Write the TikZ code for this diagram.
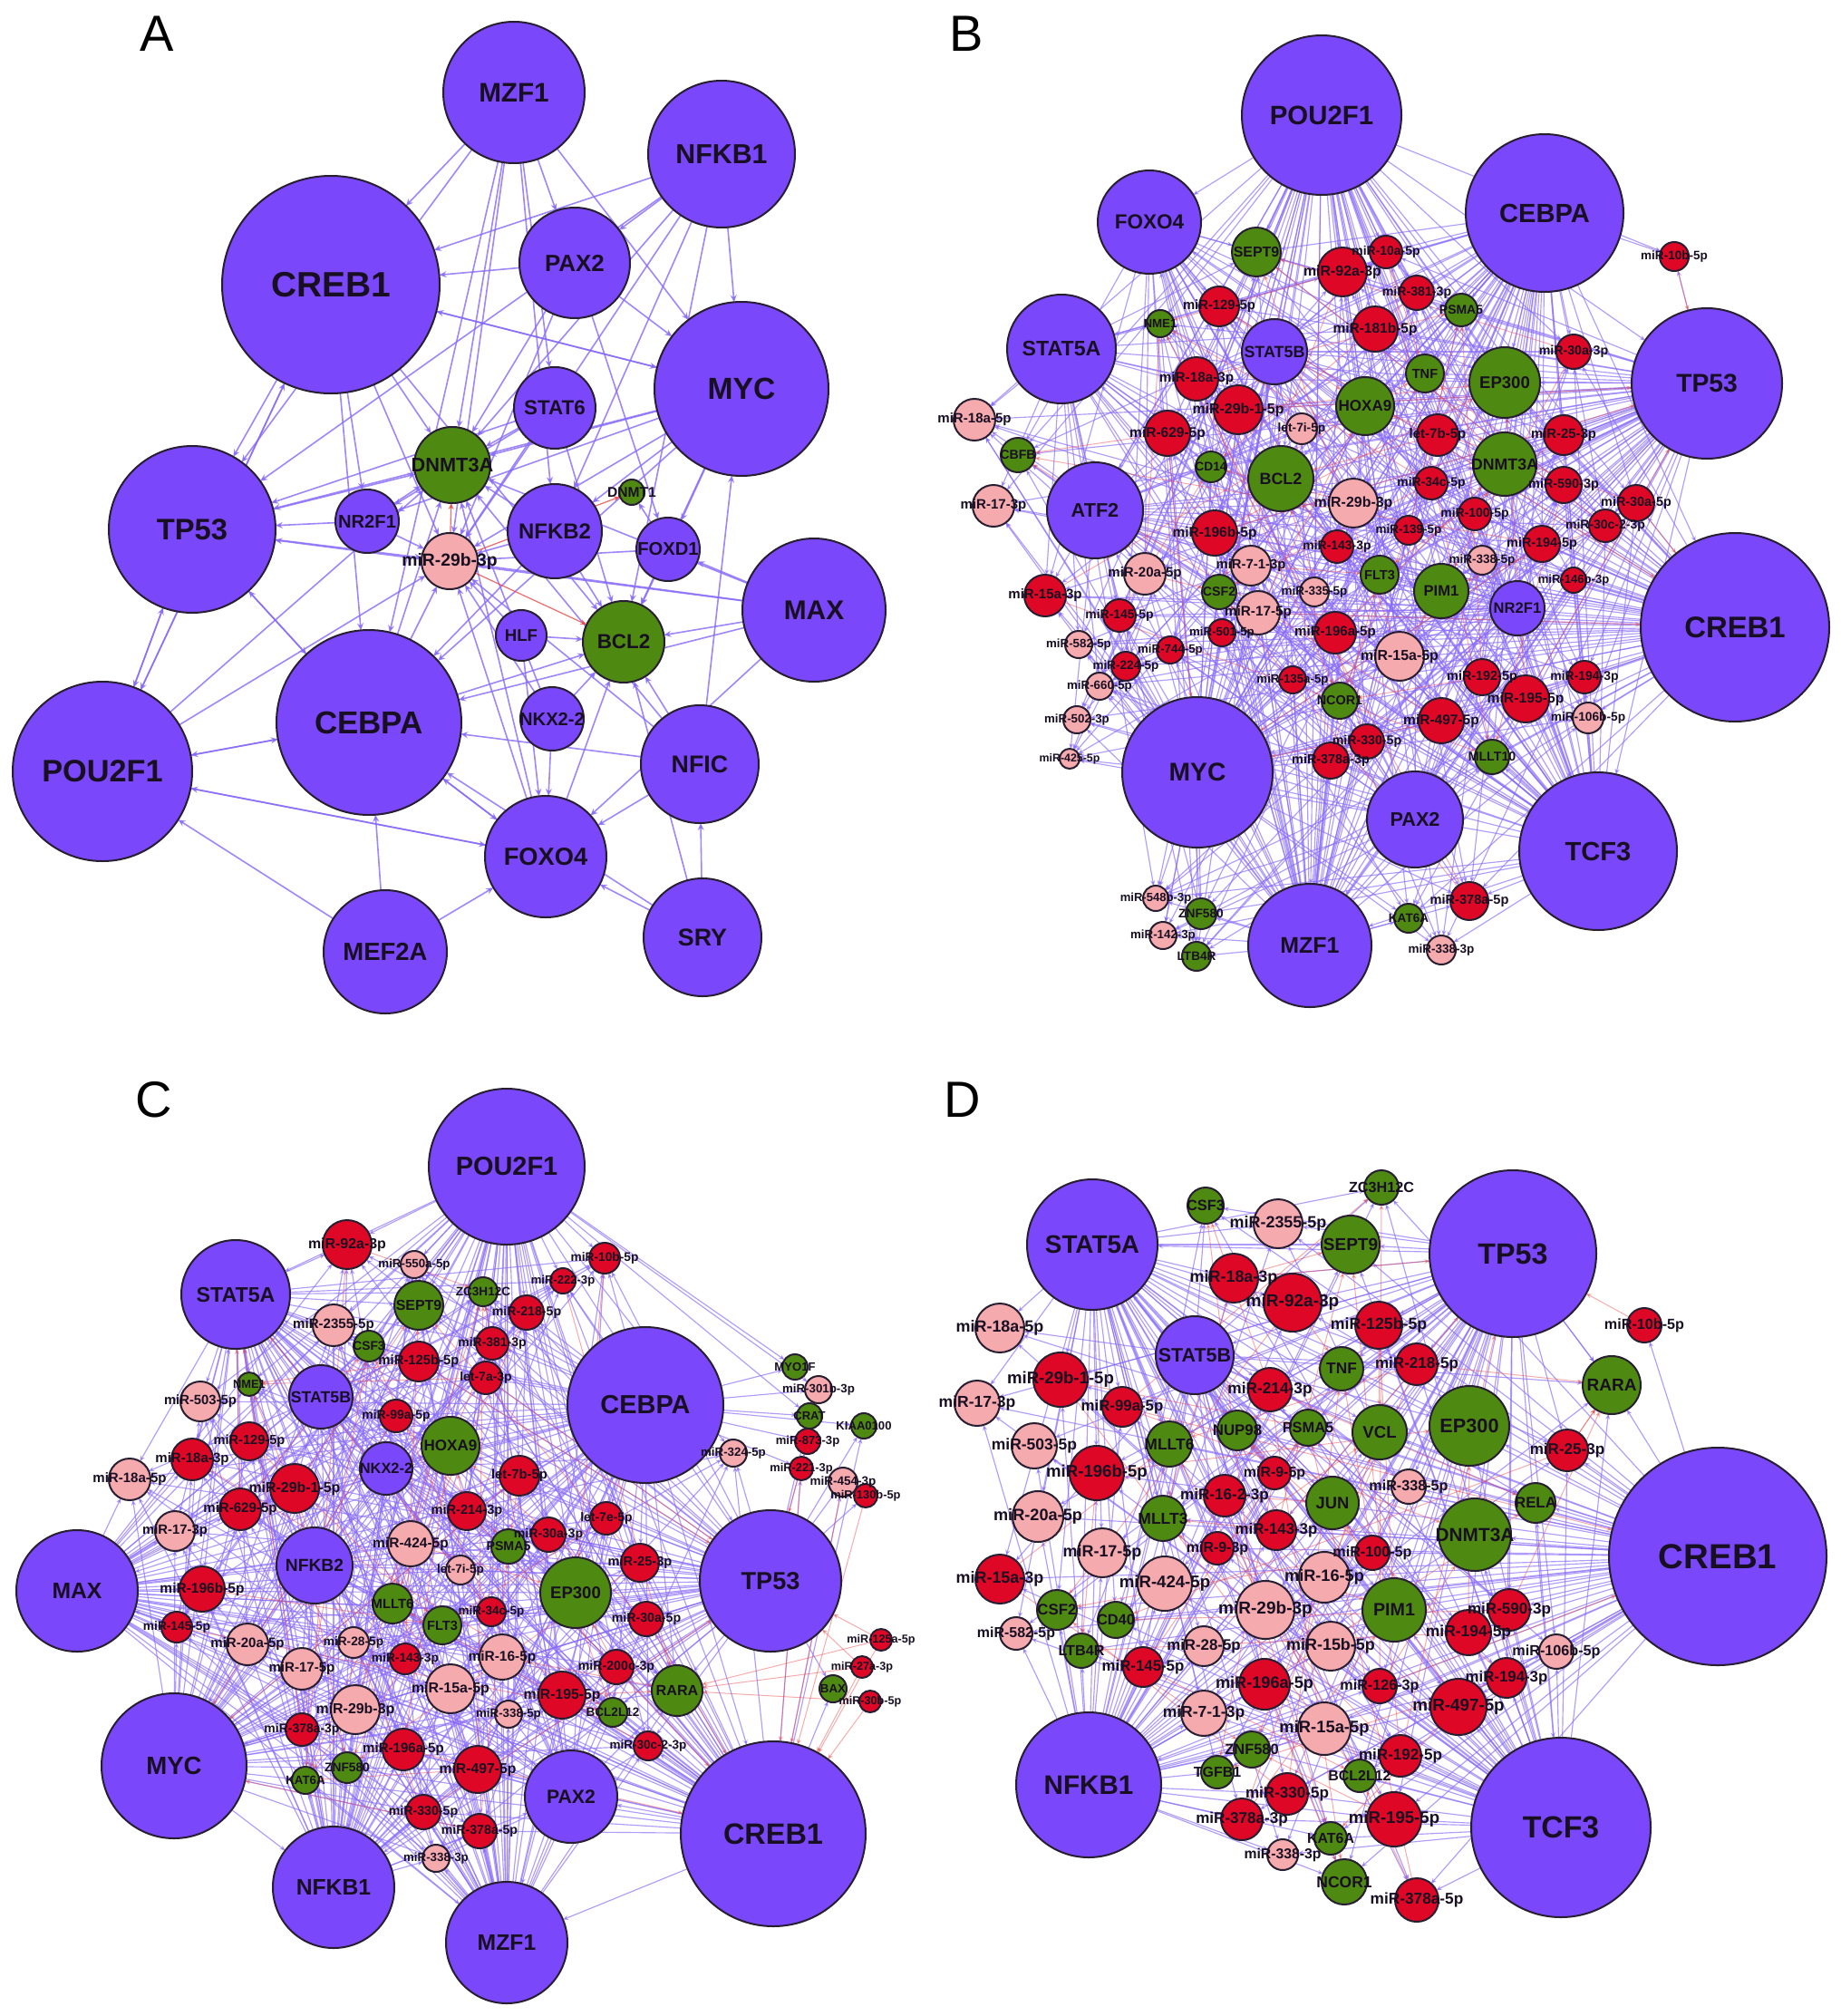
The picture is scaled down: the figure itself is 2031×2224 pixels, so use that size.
\documentclass[tikz,border=0pt]{standalone}
\usepackage{fontspec}
\setmainfont{Liberation Sans}
\usetikzlibrary{arrows.meta}
\definecolor{tfc}{RGB}{122,72,250}
\definecolor{gnc}{RGB}{78,138,18}
\definecolor{mrc}{RGB}{222,8,38}
\definecolor{mpc}{RGB}{245,170,174}
\definecolor{bdc}{RGB}{40,30,50}
\definecolor{edc}{RGB}{135,105,250}
\definecolor{rdc}{RGB}{235,70,70}
\definecolor{txc}{RGB}{25,15,35}
\pgfdeclarelayer{bg}\pgfsetlayers{bg,main}
\tikzset{
 nbase/.style={circle,draw=bdc,line width=2pt,inner sep=0pt,outer sep=0pt},
 tf/.style={nbase,fill=tfc}, gn/.style={nbase,fill=gnc}, mr/.style={nbase,fill=mrc}, mp/.style={nbase,fill=mpc},
 lbl/.style={inner sep=0pt,text=txc},
 eA/.style={draw=edc,line width=1.6pt,opacity=0.8,-{Stealth[length=8pt,width=7pt]}},
 eB/.style={draw=edc,line width=1.15pt,opacity=0.65,-{Stealth[length=6pt,width=5pt]}},
 rA/.style={draw=rdc,line width=1.2pt,opacity=0.8,-{Stealth[length=7pt,width=6pt]}},
 rB/.style={draw=rdc,line width=1pt,opacity=0.45,-{Stealth[length=6pt,width=5pt]}},
 plab/.style={inner sep=0pt,text=black,font=\fontsize{56}{56}\selectfont}
}
\gdef\alllabels{}
\newcommand\mynd[6]{%
  \pgfmathsetmacro\ndd{2*#4}%
  \pgfmathsetmacro\ndf{\fadd+0.22*#4}%
  \node[#5,minimum size=\ndd pt] (#1) at (#2,#3) {};%
  \xdef\alllabels{\unexpanded\expandafter{\alllabels}\noexpand\node[lbl,font=\noexpand\fontsize{\ndf pt}{\ndf pt}\noexpand\selectfont\noexpand\bfseries] at (#1.center) {\unexpanded{#6}};}%
}
\newcommand\meshedges[5]{%
 \foreach \t [count=\ii] in #1 {\foreach \o [count=\jj] in #3 {\pgfmathtruncatemacro\kk{mod(\ii*7+\jj*3,10)}\ifnum\kk<8 \draw[eB] (\t) -- (\o);\fi}}%
 \foreach \t [count=\ii] in #2 {\foreach \o [count=\jj] in #3 {\pgfmathtruncatemacro\kk{mod(\ii*3+\jj*7,10)}\ifnum\kk<4 \draw[eB] (\t) -- (\o);\fi}}%
 \foreach \s [count=\ii] in #1 {\foreach \t [count=\jj] in #1 {\ifnum\ii<\jj \pgfmathtruncatemacro\kk{mod(\ii+\jj,2)}\ifnum\kk=0 \draw[eB] (\s) -- (\t);\fi\fi}}%
 \foreach \s [count=\ii] in #1 {\foreach \t [count=\jj] in #2 {\pgfmathtruncatemacro\kk{mod(\ii+2*\jj,3)}\ifnum\kk=0 \draw[eB] (\s) -- (\t);\fi}}%
 \foreach \t [count=\ii] in #4 {\foreach \o [count=\jj] in #5 {\pgfmathtruncatemacro\kk{mod(\ii*5+\jj*3,11)}\ifnum\kk=0 \draw[rB] (\t) -- (\o);\fi}}%
}
\begin{document}
\begin{tikzpicture}[x=1pt,y=-1pt]
\useasboundingbox (0,0) rectangle (2031,2224);
% panel letters
\node[plab] (LA) at (173,37) {A};
\node[plab] (LB) at (1066,37) {B};
\node[plab] (LC) at (170,1213) {C};
\node[plab] (LD) at (1062,1213) {D};
% ================= Panel A
\def\fadd{12.5}
\mynd{aMZF1}{567}{102}{78}{tf}{MZF1}
\mynd{aNFKB1}{796}{170}{81}{tf}{NFKB1}
\mynd{aCREB1}{365}{314}{120}{tf}{CREB1}
\mynd{aPAX2}{634}{290}{61}{tf}{PAX2}
\mynd{aMYC}{818}{429}{96}{tf}{MYC}
\mynd{aSTAT6}{612}{450}{45}{tf}{STAT6}
\mynd{aDNMT3A}{499}{513}{42}{gn}{DNMT3A}
\mynd{aTP53}{212}{584}{92}{tf}{TP53}
\mynd{aNR2F1}{405}{575}{35}{tf}{NR2F1}
\mynd{amiR}{496}{619}{31}{mp}{miR-29b-3p}
\mynd{aNFKB2}{612}{586}{52}{tf}{NFKB2}
\mynd{aDNMT1}{697}{543}{14}{gn}{DNMT1}
\mynd{aFOXD1}{737}{606}{35}{tf}{FOXD1}
\mynd{aMAX}{898}{673}{79}{tf}{MAX}
\mynd{aHLF}{575}{701}{28}{tf}{HLF}
\mynd{aBCL2}{688}{708}{45}{gn}{BCL2}
\mynd{aCEBPA}{407}{797}{102}{tf}{CEBPA}
\mynd{aNKX}{609}{793}{35}{tf}{NKX2-2}
\mynd{aNFIC}{772}{843}{65}{tf}{NFIC}
\mynd{aPOU}{113}{851}{99}{tf}{POU2F1}
\mynd{aFOXO4}{602}{945}{67}{tf}{FOXO4}
\mynd{aMEF2A}{425}{1050}{68}{tf}{MEF2A}
\mynd{aSRY}{775}{1034}{65}{tf}{SRY}
% ================= Panel B
\def\fadd{10}
\mynd{bPOU}{1458}{127}{88}{tf}{POU2F1}
\mynd{bFOXO4}{1268}{245}{57}{tf}{FOXO4}
\mynd{bCEBPA}{1704}{235}{87}{tf}{CEBPA}
\mynd{bSTAT5A}{1171}{385}{60}{tf}{STAT5A}
\mynd{bSTAT5B}{1406}{388}{36}{tf}{STAT5B}
\mynd{bTP53}{1883}{423}{83}{tf}{TP53}
\mynd{bATF2}{1208}{563}{53}{tf}{ATF2}
\mynd{bNR2F1}{1674}{671}{30}{tf}{NR2F1}
\mynd{bCREB1}{1914}{692}{104}{tf}{CREB1}
\mynd{bMYC}{1321}{852}{83}{tf}{MYC}
\mynd{bPAX2}{1561}{904}{53}{tf}{PAX2}
\mynd{bTCF3}{1763}{939}{87}{tf}{TCF3}
\mynd{bMZF1}{1445}{1043}{68}{tf}{MZF1}
\mynd{bSEPT9}{1386}{278}{27}{gn}{SEPT9}
\mynd{b92a}{1481}{300}{27}{mr}{miR-92a-3p}
\mynd{b10a}{1529}{278}{18}{mr}{miR-10a-5p}
\mynd{b10b}{1847}{283}{16}{mr}{miR-10b-5p}
\mynd{b129}{1345}{338}{22}{mr}{miR-129-5p}
\mynd{bNME1}{1280}{357}{15}{gn}{NME1}
\mynd{b381}{1563}{323}{19}{mr}{miR-381-3p}
\mynd{bPSMA5}{1612}{342}{18}{gn}{PSMA5}
\mynd{b181b}{1517}{363}{25}{mr}{miR-181b-5p}
\mynd{b30a3}{1736}{388}{19}{mr}{miR-30a-3p}
\mynd{bTNF}{1572}{412}{21}{gn}{TNF}
\mynd{bEP300}{1660}{422}{39}{gn}{EP300}
\mynd{b18a3}{1320}{418}{24}{mr}{miR-18a-3p}
\mynd{b29b1}{1366}{452}{27}{mr}{miR-29b-1-5p}
\mynd{bHOXA9}{1506}{448}{32}{gn}{HOXA9}
\mynd{b18a5}{1075}{463}{23}{mp}{miR-18a-5p}
\mynd{b629}{1288}{478}{25}{mr}{miR-629-5p}
\mynd{bl7i}{1436}{473}{17}{mp}{let-7i-5p}
\mynd{bl7b}{1586}{480}{23}{mr}{let-7b-5p}
\mynd{b25}{1725}{480}{22}{mr}{miR-25-3p}
\mynd{bCBFB}{1123}{502}{19}{gn}{CBFB}
\mynd{bCD14}{1336}{515}{17}{gn}{CD14}
\mynd{bBCL2}{1413}{528}{36}{gn}{BCL2}
\mynd{bDNMT3A}{1660}{512}{35}{gn}{DNMT3A}
\mynd{b34c}{1579}{533}{18}{mr}{miR-34c-5p}
\mynd{b590}{1725}{535}{20}{mr}{miR-590-3p}
\mynd{b30a5}{1805}{555}{20}{mr}{miR-30a-5p}
\mynd{b29b3}{1493}{555}{27}{mp}{miR-29b-3p}
\mynd{b173}{1096}{558}{23}{mp}{miR-17-3p}
\mynd{b100}{1627}{567}{18}{mr}{miR-100-5p}
\mynd{b30c}{1771}{580}{18}{mr}{miR-30c-2-3p}
\mynd{b139}{1554}{585}{16}{mr}{miR-139-5p}
\mynd{b196b}{1340}{588}{25}{mr}{miR-196b-5p}
\mynd{b1945}{1701}{600}{20}{mr}{miR-194-5p}
\mynd{b143}{1475}{603}{18}{mr}{miR-143-3p}
\mynd{b71}{1380}{624}{22}{mp}{miR-7-1-3p}
\mynd{b3385}{1635}{618}{16}{mp}{miR-338-5p}
\mynd{b20a}{1263}{633}{23}{mp}{miR-20a-5p}
\mynd{bFLT3}{1522}{634}{21}{gn}{FLT3}
\mynd{b146}{1736}{640}{14}{mr}{miR-146b-3p}
\mynd{bPIM1}{1590}{652}{30}{gn}{PIM1}
\mynd{b15a3}{1153}{657}{23}{mr}{miR-15a-3p}
\mynd{bCSF2}{1345}{653}{19}{gn}{CSF2}
\mynd{b335}{1450}{653}{16}{mp}{miR-335-5p}
\mynd{b175}{1388}{676}{24}{mp}{miR-17-5p}
\mynd{b145}{1235}{679}{18}{mr}{miR-145-5p}
\mynd{b501}{1348}{698}{15}{mr}{miR-501-5p}
\mynd{b196a}{1473}{698}{23}{mr}{miR-196a-5p}
\mynd{b582}{1190}{711}{15}{mp}{miR-582-5p}
\mynd{b744}{1291}{717}{15}{mr}{miR-744-5p}
\mynd{b15a5}{1544}{724}{27}{mp}{miR-15a-5p}
\mynd{b224}{1242}{735}{16}{mr}{miR-224-5p}
\mynd{b192}{1635}{747}{20}{mr}{miR-192-5p}
\mynd{b1943}{1748}{747}{18}{mr}{miR-194-3p}
\mynd{b135}{1426}{750}{15}{mr}{miR-135a-5p}
\mynd{b660}{1213}{757}{15}{mp}{miR-660-5p}
\mynd{b195}{1683}{771}{26}{mr}{miR-195-5p}
\mynd{bNCOR1}{1478}{773}{20}{gn}{NCOR1}
\mynd{b106b}{1752}{792}{17}{mp}{miR-106b-5p}
\mynd{b502}{1188}{794}{15}{mp}{miR-502-3p}
\mynd{b497}{1590}{795}{25}{mr}{miR-497-5p}
\mynd{b330}{1508}{818}{19}{mr}{miR-330-5p}
\mynd{bMLLT10}{1646}{835}{19}{gn}{MLLT10}
\mynd{b425}{1180}{837}{11}{mp}{miR-425-5p}
\mynd{b378a3}{1468}{839}{20}{mr}{miR-378a-3p}
\mynd{b548}{1275}{991}{14}{mp}{miR-548b-3p}
\mynd{b378a5}{1621}{994}{21}{mr}{miR-378a-5p}
\mynd{bZNF580}{1325}{1008}{17}{gn}{ZNF580}
\mynd{bKAT6A}{1554}{1013}{16}{gn}{KAT6A}
\mynd{b142}{1283}{1032}{15}{mp}{miR-142-3p}
\mynd{b3383}{1590}{1048}{16}{mp}{miR-338-3p}
\mynd{bLTB4R}{1320}{1055}{16}{gn}{LTB4R}
% ================= Panel C
\def\fadd{10}
\mynd{cPOU}{559}{1287}{86}{tf}{POU2F1}
\mynd{cSTAT5A}{260}{1428}{60}{tf}{STAT5A}
\mynd{cSTAT5B}{354}{1541}{35}{tf}{STAT5B}
\mynd{cCEBPA}{712}{1550}{86}{tf}{CEBPA}
\mynd{cNKX}{426}{1620}{29}{tf}{NKX2-2}
\mynd{cNFKB2}{347}{1727}{42}{tf}{NFKB2}
\mynd{cMAX}{85}{1755}{67}{tf}{MAX}
\mynd{cTP53}{850}{1744}{78}{tf}{TP53}
\mynd{cMYC}{192}{1948}{80}{tf}{MYC}
\mynd{cPAX2}{630}{1982}{51}{tf}{PAX2}
\mynd{cCREB1}{853}{2023}{102}{tf}{CREB1}
\mynd{cNFKB1}{368}{2082}{67}{tf}{NFKB1}
\mynd{cMZF1}{559}{2143}{67}{tf}{MZF1}
\mynd{c92a}{383}{1373}{27}{mr}{miR-92a-3p}
\mynd{c550}{457}{1395}{15}{mp}{miR-550a-5p}
\mynd{cSEPT9}{462}{1440}{27}{gn}{SEPT9}
\mynd{cZC3H}{533}{1425}{16}{gn}{ZC3H12C}
\mynd{c2355}{368}{1462}{23}{mp}{miR-2355-5p}
\mynd{cCSF3}{407}{1485}{17}{gn}{CSF3}
\mynd{c125b}{462}{1502}{22}{mr}{miR-125b-5p}
\mynd{cNME1}{275}{1527}{13}{gn}{NME1}
\mynd{c503}{221}{1546}{22}{mp}{miR-503-5p}
\mynd{c99a}{437}{1562}{18}{mr}{miR-99a-5p}
\mynd{cHOXA9}{497}{1595}{32}{gn}{HOXA9}
\mynd{c129}{275}{1590}{21}{mr}{miR-129-5p}
\mynd{c18a3}{212}{1610}{23}{mr}{miR-18a-3p}
\mynd{c18a5}{143}{1632}{23}{mp}{miR-18a-5p}
\mynd{c29b1}{325}{1642}{27}{mr}{miR-29b-1-5p}
\mynd{c629}{265}{1665}{23}{mr}{miR-629-5p}
\mynd{c173}{193}{1689}{22}{mp}{miR-17-3p}
\mynd{c424}{453}{1703}{25}{mp}{miR-424-5p}
\mynd{c214}{515}{1667}{21}{mr}{miR-214-3p}
\mynd{c10b}{667}{1388}{17}{mr}{miR-10b-5p}
\mynd{c222}{621}{1413}{14}{mr}{miR-222-3p}
\mynd{c218}{581}{1448}{19}{mr}{miR-218-5p}
\mynd{c381}{543}{1482}{18}{mr}{miR-381-3p}
\mynd{cl7a}{536}{1520}{18}{mr}{let-7a-3p}
\mynd{cMYO1F}{877}{1508}{14}{gn}{MYO1F}
\mynd{c301b}{903}{1533}{15}{mp}{miR-301b-3p}
\mynd{cCRAT}{893}{1562}{14}{gn}{CRAT}
\mynd{cKIAA}{953}{1573}{14}{gn}{KIAA0100}
\mynd{c873}{891}{1590}{14}{mr}{miR-873-3p}
\mynd{c324}{809}{1603}{15}{mp}{miR-324-5p}
\mynd{c221}{884}{1620}{13}{mr}{miR-221-3p}
\mynd{c454}{930}{1635}{16}{mp}{miR-454-3p}
\mynd{c130b}{955}{1650}{13}{mr}{miR-130b-5p}
\mynd{cl7b}{573}{1628}{22}{mr}{let-7b-5p}
\mynd{cl7e}{669}{1675}{18}{mr}{let-7e-5p}
\mynd{c30a3}{605}{1693}{19}{mr}{miR-30a-3p}
\mynd{cPSMA5}{561}{1706}{19}{gn}{PSMA5}
\mynd{cl7i}{508}{1732}{16}{mp}{let-7i-5p}
\mynd{cEP300}{635}{1757}{39}{gn}{EP300}
\mynd{c25}{706}{1724}{21}{mr}{miR-25-3p}
\mynd{c34c}{542}{1778}{16}{mr}{miR-34c-5p}
\mynd{cFLT3}{488}{1793}{21}{gn}{FLT3}
\mynd{c30a5}{713}{1786}{19}{mr}{miR-30a-5p}
\mynd{c165}{554}{1828}{25}{mp}{miR-16-5p}
\mynd{c15a5}{497}{1863}{27}{mp}{miR-15a-5p}
\mynd{c200c}{680}{1839}{19}{mr}{miR-200c-3p}
\mynd{c195}{620}{1870}{26}{mr}{miR-195-5p}
\mynd{cRARA}{747}{1865}{28}{gn}{RARA}
\mynd{cBCL2L12}{676}{1889}{16}{gn}{BCL2L12}
\mynd{c3385}{561}{1891}{15}{mp}{miR-338-5p}
\mynd{c30c}{715}{1926}{16}{mr}{miR-30c-2-3p}
\mynd{c125a}{972}{1809}{12}{mr}{miR-125a-5p}
\mynd{c27a}{951}{1839}{12}{mr}{miR-27a-3p}
\mynd{cBAX}{919}{1863}{15}{gn}{BAX}
\mynd{c30b}{960}{1877}{12}{mr}{miR-30b-5p}
\mynd{c497}{527}{1952}{26}{mr}{miR-497-5p}
\mynd{c330}{467}{1999}{19}{mr}{miR-330-5p}
\mynd{c378a5}{529}{2020}{19}{mr}{miR-378a-5p}
\mynd{c3383}{481}{2050}{15}{mp}{miR-338-3p}
\mynd{c196b}{223}{1753}{25}{mr}{miR-196b-5p}
\mynd{cMLLT6}{433}{1769}{22}{gn}{MLLT6}
\mynd{c145}{195}{1795}{17}{mr}{miR-145-5p}
\mynd{c20a}{273}{1814}{23}{mp}{miR-20a-5p}
\mynd{c28}{390}{1812}{17}{mp}{miR-28-5p}
\mynd{c143}{447}{1830}{17}{mr}{miR-143-3p}
\mynd{c175}{333}{1841}{23}{mp}{miR-17-5p}
\mynd{c29b3}{392}{1886}{27}{mp}{miR-29b-3p}
\mynd{c378a3}{333}{1908}{18}{mr}{miR-378a-3p}
\mynd{c196a}{445}{1930}{23}{mr}{miR-196a-5p}
\mynd{cZNF580}{383}{1950}{17}{gn}{ZNF580}
\mynd{cKAT6A}{337}{1964}{15}{gn}{KAT6A}
% ================= Panel D
\def\fadd{12}
\mynd{dSTAT5A}{1205}{1373}{72}{tf}{STAT5A}
\mynd{dTP53}{1669}{1383}{92}{tf}{TP53}
\mynd{dSTAT5B}{1318}{1495}{43}{tf}{STAT5B}
\mynd{dCREB1}{1895}{1717}{120}{tf}{CREB1}
\mynd{dNFKB1}{1201}{1969}{80}{tf}{NFKB1}
\mynd{dTCF3}{1722}{2016}{99}{tf}{TCF3}
\mynd{dCSF3}{1330}{1330}{20}{gn}{CSF3}
\mynd{d2355}{1410}{1350}{27}{mp}{miR-2355-5p}
\mynd{dSEPT9}{1490}{1373}{32}{gn}{SEPT9}
\mynd{dZC3H}{1524}{1310}{19}{gn}{ZC3H12C}
\mynd{d18a3}{1361}{1410}{27}{mr}{miR-18a-3p}
\mynd{d92a}{1426}{1437}{32}{mr}{miR-92a-3p}
\mynd{d18a5}{1103}{1465}{27}{mp}{miR-18a-5p}
\mynd{d125b}{1521}{1462}{26}{mr}{miR-125b-5p}
\mynd{dTNF}{1480}{1510}{24}{gn}{TNF}
\mynd{d218}{1563}{1505}{23}{mr}{miR-218-5p}
\mynd{d10b}{1814}{1462}{19}{mr}{miR-10b-5p}
\mynd{dRARA}{1778}{1528}{32}{gn}{RARA}
\mynd{d29b1}{1170}{1522}{30}{mr}{miR-29b-1-5p}
\mynd{d173}{1078}{1548}{25}{mp}{miR-17-3p}
\mynd{d214}{1401}{1533}{24}{mr}{miR-214-3p}
\mynd{d99a}{1238}{1552}{22}{mr}{miR-99a-5p}
\mynd{dVCL}{1522}{1580}{30}{gn}{VCL}
\mynd{dEP300}{1621}{1573}{44}{gn}{EP300}
\mynd{d503}{1141}{1595}{25}{mp}{miR-503-5p}
\mynd{dMLLT6}{1290}{1593}{25}{gn}{MLLT6}
\mynd{dNUP98}{1365}{1578}{22}{gn}{NUP98}
\mynd{dPSMA5}{1443}{1575}{20}{gn}{PSMA5}
\mynd{d25}{1729}{1600}{23}{mr}{miR-25-3p}
\mynd{d196b}{1210}{1625}{30}{mr}{miR-196b-5p}
\mynd{d95}{1406}{1625}{18}{mr}{miR-9-5p}
\mynd{dJUN}{1470}{1658}{29}{gn}{JUN}
\mynd{d3385}{1554}{1640}{19}{mp}{miR-338-5p}
\mynd{dRELA}{1694}{1658}{22}{gn}{RELA}
\mynd{d162}{1351}{1650}{23}{mr}{miR-16-2-3p}
\mynd{d20a}{1145}{1673}{28}{mp}{miR-20a-5p}
\mynd{dMLLT3}{1283}{1675}{25}{gn}{MLLT3}
\mynd{d143}{1408}{1688}{22}{mr}{miR-143-3p}
\mynd{dDNMT3A}{1627}{1693}{40}{gn}{DNMT3A}
\mynd{d100}{1514}{1713}{19}{mr}{miR-100-5p}
\mynd{d93}{1343}{1708}{18}{mr}{miR-9-3p}
\mynd{d175}{1216}{1713}{27}{mp}{miR-17-5p}
\mynd{d165}{1461}{1740}{28}{mp}{miR-16-5p}
\mynd{d15a3}{1103}{1742}{27}{mr}{miR-15a-3p}
\mynd{d424}{1285}{1747}{30}{mp}{miR-424-5p}
\mynd{dCSF2}{1166}{1776}{22}{gn}{CSF2}
\mynd{dCD40}{1231}{1787}{20}{gn}{CD40}
\mynd{d29b3}{1396}{1776}{32}{mp}{miR-29b-3p}
\mynd{dPIM1}{1538}{1776}{35}{gn}{PIM1}
\mynd{d582}{1121}{1802}{18}{mp}{miR-582-5p}
\mynd{dLTB4R}{1193}{1821}{19}{gn}{LTB4R}
\mynd{d28}{1328}{1816}{22}{mp}{miR-28-5p}
\mynd{d15b}{1468}{1816}{27}{mp}{miR-15b-5p}
\mynd{d145}{1261}{1839}{22}{mr}{miR-145-5p}
\mynd{d196a}{1395}{1858}{28}{mr}{miR-196a-5p}
\mynd{d126}{1522}{1860}{19}{mr}{miR-126-3p}
\mynd{d590}{1665}{1776}{23}{mr}{miR-590-3p}
\mynd{d1945}{1620}{1801}{25}{mr}{miR-194-5p}
\mynd{d106b}{1717}{1822}{19}{mp}{miR-106b-5p}
\mynd{d1943}{1662}{1851}{22}{mr}{miR-194-3p}
\mynd{d497}{1609}{1883}{31}{mr}{miR-497-5p}
\mynd{d71}{1328}{1890}{25}{mp}{miR-7-1-3p}
\mynd{d15a5}{1461}{1907}{29}{mp}{miR-15a-5p}
\mynd{d192}{1545}{1937}{23}{mr}{miR-192-5p}
\mynd{dZNF580}{1381}{1930}{20}{gn}{ZNF580}
\mynd{dTGFB1}{1343}{1955}{18}{gn}{TGFB1}
\mynd{dBCL2L12}{1500}{1959}{18}{gn}{BCL2L12}
\mynd{d330}{1420}{1979}{23}{mr}{miR-330-5p}
\mynd{d378a3}{1370}{2007}{23}{mr}{miR-378a-3p}
\mynd{d195}{1538}{2007}{30}{mr}{miR-195-5p}
\mynd{dKAT6A}{1468}{2028}{18}{gn}{KAT6A}
\mynd{d3383}{1415}{2046}{17}{mp}{miR-338-3p}
\mynd{dNCOR1}{1483}{2076}{25}{gn}{NCOR1}
\mynd{d378a5}{1563}{2096}{24}{mr}{miR-378a-5p}
% all labels on top of circles
\alllabels
% ================= Edges
\begin{pgfonlayer}{bg}
\fill[white] (0,0) rectangle (2031,2224);
% Panel A
\foreach \s/\t in {aMZF1/aCREB1, aMZF1/aDNMT3A, aMZF1/amiR, aMZF1/aMYC, aMZF1/aSTAT6, aMZF1/aNFKB2, aMZF1/aCEBPA, aMZF1/aTP53, aMZF1/aPAX2,
 aNFKB1/aCREB1, aNFKB1/aPAX2, aNFKB1/aDNMT3A, aNFKB1/aMYC, aNFKB1/aNFKB2, aNFKB1/amiR, aNFKB1/aBCL2, aNFKB1/aTP53,
 aCREB1/aTP53, aCREB1/aDNMT3A, aCREB1/amiR, aCREB1/aNR2F1, aCREB1/aPOU, aCREB1/aCEBPA, aCREB1/aMYC, aCREB1/aBCL2,
 aPAX2/aCREB1, aPAX2/aMYC, aPAX2/aDNMT3A, aPAX2/amiR, aPAX2/aFOXD1,
 aMYC/aCREB1, aMYC/aTP53, aMYC/aDNMT3A, aMYC/amiR, aMYC/aBCL2, aMYC/aFOXD1, aMYC/aCEBPA, aMYC/aNFKB2, aMYC/aNR2F1,
 aSTAT6/aDNMT3A, aSTAT6/amiR, aSTAT6/aTP53, aSTAT6/aBCL2, aSTAT6/aNR2F1,
 aTP53/aCEBPA, aTP53/aPOU, aTP53/amiR, aTP53/aDNMT3A,
 aNR2F1/amiR, aNR2F1/aDNMT3A, aNR2F1/aTP53,
 aNFKB2/amiR, aNFKB2/aDNMT3A, aNFKB2/aBCL2, aNFKB2/aCEBPA,
 aFOXD1/aBCL2, aFOXD1/amiR, aFOXD1/aDNMT1,
 aMAX/aBCL2, aMAX/aCEBPA, aMAX/aDNMT3A, aMAX/amiR, aMAX/aFOXO4, aMAX/aFOXD1, aMAX/aTP53,
 aHLF/amiR, aHLF/aBCL2, aHLF/aFOXO4,
 aCEBPA/aTP53, aCEBPA/aPOU, aCEBPA/amiR, aCEBPA/aDNMT3A, aCEBPA/aBCL2, aCEBPA/aFOXO4,
 aNKX/amiR, aNKX/aBCL2, aNKX/aFOXO4, aNKX/aDNMT3A,
 aNFIC/aBCL2, aNFIC/aCEBPA, aNFIC/aFOXO4, aNFIC/amiR, aNFIC/aMYC, aNFIC/aDNMT3A,
 aPOU/aTP53, aPOU/aCEBPA, aPOU/amiR, aPOU/aCREB1, aPOU/aFOXO4, aPOU/aDNMT3A,
 aFOXO4/aCEBPA, aFOXO4/amiR, aFOXO4/aBCL2, aFOXO4/aDNMT3A, aFOXO4/aPOU,
 aMEF2A/aCEBPA, aMEF2A/aFOXO4, aMEF2A/aPOU,
 aSRY/aFOXO4, aSRY/aNFIC, aSRY/aBCL2, aSRY/aCEBPA}
 {\draw[eA] (\s) -- (\t);}
\foreach \s/\t in {amiR/aBCL2, amiR/aDNMT3A, amiR/aDNMT1} {\draw[rA] (\s) -- (\t);}
% Panel B
\def\Bbig{bPOU,bCEBPA,bTP53,bCREB1,bTCF3,bMYC,bMZF1}
\def\Bsmall{bFOXO4,bSTAT5A,bSTAT5B,bATF2,bNR2F1,bPAX2}
\def\Bo{bSEPT9,b92a,b10a,b129,bNME1,b381,bPSMA5,b181b,b30a3,bTNF,bEP300,b18a3,b29b1,bHOXA9,b18a5,b629,bl7i,bl7b,b25,bCBFB,bCD14,bBCL2,bDNMT3A,b34c,b590,b30a5,b29b3,b173,b100,b30c,b139,b196b,b1945,b143,b71,b3385,b20a,bFLT3,b146,bPIM1,b15a3,bCSF2,b335,b175,b145,b501,b196a,b582,b744,b15a5,b224,b192,b1943,b135,b660,b195,bNCOR1,b106b,b502,b497,b330,bMLLT10,b425,b378a3,b548,b378a5,bZNF580,bKAT6A,b142,b3383,bLTB4R}
\def\Bm{b92a,b10a,b129,b381,b181b,b30a3,b18a3,b29b1,b629,bl7b,b25,b34c,b590,b30a5,b29b3,b100,b30c,b139,b196b,b1945,b143,b71,b20a,b15a3,b175,b145,b196a,b15a5,b192,b195,b497,b330,b378a3,b378a5}
\def\Bg{bSEPT9,bNME1,bPSMA5,bTNF,bEP300,bHOXA9,bCBFB,bCD14,bBCL2,bDNMT3A,bFLT3,bPIM1,bCSF2,bNCOR1,bMLLT10,bTP53,bCREB1,bMYC}
\meshedges{\Bbig}{\Bsmall}{\Bo}{\Bm}{\Bg}
\foreach \s/\t in {bCEBPA/b10b, bTP53/b10b, bPOU/b10b} {\draw[eB] (\s) -- (\t);}
\draw[rB] (b10b) -- (bTP53);
% Panel C
\def\Cbig{cPOU,cCEBPA,cTP53,cCREB1,cMYC,cMAX,cNFKB1,cMZF1,cSTAT5A}
\def\Csmall{cSTAT5B,cNKX,cNFKB2,cPAX2}
\def\Co{c92a,c550,cSEPT9,cZC3H,c2355,cCSF3,c125b,cNME1,c503,c99a,cHOXA9,c129,c18a3,c18a5,c29b1,c629,c173,c424,c214,c10b,c222,c218,c381,cl7a,c324,cl7b,cl7e,c30a3,cPSMA5,cl7i,cEP300,c25,c34c,cFLT3,c30a5,c165,c15a5,c200c,c195,cRARA,cBCL2L12,c3385,c30c,c497,c330,c378a5,c3383,c196b,cMLLT6,c145,c20a,c28,c143,c175,c29b3,c378a3,c196a,cZNF580,cKAT6A}
\def\Cm{c92a,c125b,c99a,c129,c18a3,c29b1,c629,c214,c10b,c222,c218,c381,cl7a,cl7b,cl7e,c30a3,c25,c34c,c30a5,c200c,c195,c30c,c497,c330,c378a5,c196b,c145,c143,c378a3,c196a,c424,c165,c15a5,c29b3}
\def\Cg{cSEPT9,cZC3H,cCSF3,cNME1,cHOXA9,cPSMA5,cEP300,cFLT3,cRARA,cBCL2L12,cMLLT6,cZNF580,cKAT6A,cSTAT5A,cTP53,cCREB1,cMYC}
\meshedges{\Cbig}{\Csmall}{\Co}{\Cm}{\Cg}
\foreach \s/\t in {cPOU/cMYO1F, cPOU/c301b, cPOU/cCRAT, cCEBPA/cMYO1F, cCEBPA/c301b, cCEBPA/cCRAT, cCEBPA/c873, cCEBPA/c221, cCEBPA/cKIAA, cTP53/cKIAA, cTP53/c454, cTP53/cCRAT, cTP53/c130b, cTP53/c873, cCREB1/cBAX, cCREB1/c454, cCREB1/c221, cCREB1/cKIAA, cTP53/cBAX} {\draw[eB] (\s) -- (\t);}
\foreach \s/\t in {c125a/cTP53, c27a/cTP53, c30b/cCREB1, c125a/cRARA, c27a/cRARA, c30b/cRARA, c221/cCREB1, c130b/cCREB1, c873/cTP53, c454/cCREB1, c125a/cCREB1, c27a/cCREB1} {\draw[rB] (\s) -- (\t);}
% Panel D
\def\Dbig{dTP53,dCREB1,dTCF3,dNFKB1,dSTAT5A}
\def\Dsmall{dSTAT5B}
\def\Do{dCSF3,d2355,dSEPT9,dZC3H,d18a3,d92a,d18a5,d125b,dTNF,d218,dRARA,d29b1,d173,d214,d99a,dVCL,dEP300,d503,dMLLT6,dNUP98,dPSMA5,d25,d196b,d95,dJUN,d3385,dRELA,d162,d20a,dMLLT3,d143,dDNMT3A,d100,d93,d175,d165,d15a3,d424,dCSF2,dCD40,d29b3,dPIM1,d582,dLTB4R,d28,d15b,d145,d196a,d126,d590,d1945,d106b,d1943,d497,d71,d15a5,d192,dZNF580,dTGFB1,dBCL2L12,d330,d378a3,d195,dKAT6A,d3383,dNCOR1,d378a5}
\def\Dm{d18a3,d92a,d125b,d218,d29b1,d214,d99a,d25,d196b,d95,d162,d143,d100,d93,d15a3,d145,d196a,d126,d590,d1945,d1943,d497,d192,d330,d378a3,d195,d378a5}
\def\Dg{dCSF3,dSEPT9,dZC3H,dTNF,dRARA,dVCL,dEP300,dMLLT6,dNUP98,dPSMA5,dJUN,dRELA,dMLLT3,dDNMT3A,dCSF2,dCD40,dPIM1,dLTB4R,dZNF580,dTGFB1,dBCL2L12,dKAT6A,dNCOR1,dTP53,dCREB1}
\meshedges{\Dbig}{\Dsmall}{\Do}{\Dm}{\Dg}
\foreach \s/\t in {dCREB1/d10b, dTP53/dRARA} {\draw[eB] (\s) -- (\t);}
\foreach \s/\t in {d10b/dTP53, d218/dRARA, d25/dRARA} {\draw[rB] (\s) -- (\t);}
\end{pgfonlayer}
\end{tikzpicture}
\end{document}
